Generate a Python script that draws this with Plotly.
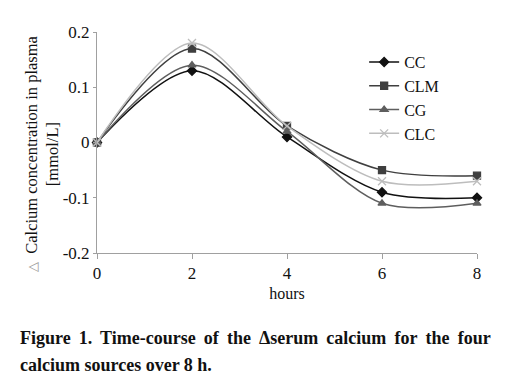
import plotly.graph_objects as go

hours = [0, 2, 4, 6, 8]
series_names = ["CC", "CLM", "CG", "CLC"]
cc = [0, 0.13, 0.01, -0.09, -0.10]
clm = [0, 0.17, 0.03, -0.05, -0.06]
cg = [0, 0.14, 0.02, -0.11, -0.11]
clc = [0, 0.18, 0.03, -0.07, -0.07]
y_ticks = [-0.2, -0.1, 0, 0.1, 0.2]
y_tick_labels = ["-0.2", "-0.1", "0", "0.1", "0.2"]
x_ticks = [0, 2, 4, 6, 8]

colors = ["#111111", "#3f3f3f", "#5e5e5e", "#bdbdbd"]
symbols = ["diamond", "square", "triangle-up", "x-thin"]
values = [cc, clm, cg, clc]

fig = go.Figure()
for name, vals, col, sym in zip(series_names, values, colors, symbols):
    fig.add_trace(go.Scatter(
        x=hours, y=vals, name=name, mode="lines+markers",
        line=dict(color=col, width=1.5, shape="spline", smoothing=0.9),
        marker=dict(symbol=sym, size=7 if sym != "x-thin" else 8, color=col,
                    line=dict(color=col, width=1.3)),
        cliponaxis=False,
    ))

font = "Liberation Serif, Times New Roman, serif"
fig.update_layout(
    width=519, height=392,
    margin=dict(l=89, r=50, t=24, b=147),
    paper_bgcolor="white", plot_bgcolor="white",
    font=dict(family=font, size=17, color="#111111"),
    showlegend=True,
    legend=dict(x=0.703, y=0.941, xanchor="left", yanchor="top",
                font=dict(size=16, family=font), bgcolor="rgba(0,0,0,0)",
                tracegroupgap=0),
    xaxis=dict(range=[0, 8], tickvals=x_ticks, showgrid=False, zeroline=False,
               showline=True, linecolor="#a0a0a0", linewidth=1,
               ticks="outside", ticklen=5, tickcolor="#a0a0a0",
               tickfont=dict(size=17, family=font),
               title=dict(text="hours", font=dict(size=16, family=font), standoff=5)),
    yaxis=dict(range=[-0.2, 0.2], tickvals=y_ticks, ticktext=y_tick_labels,
               showgrid=False, zeroline=False,
               showline=True, linecolor="#a0a0a0", linewidth=1,
               ticks="outside", ticklen=3, tickcolor="#a0a0a0",
               tickfont=dict(size=17, family=font)),
)

fig.add_annotation(
    xref="paper", yref="paper", x=-0.145, y=0.452, xanchor="center", yanchor="middle",
    textangle=-90, showarrow=False,
    text="<span style='color:#999999;font-size:13px'>△</span>\u2002Calcium concentration in plasma<br>[mmol/L]",
    font=dict(size=16.5, family=font, color="#111111"),
)

line1 = "Figure 1. Time-course of the Δserum calcium for the four".replace(" ", "\u2009 ")
line2 = "calcium sources over 8 h."
fig.add_annotation(
    xref="paper", yref="paper", x=-0.208, y=-0.385, xanchor="left", yanchor="middle",
    showarrow=False, align="left",
    text="<b>" + line1 + "</b>",
    font=dict(size=18, family=font, color="#111111"),
)
fig.add_annotation(
    xref="paper", yref="paper", x=-0.208, y=-0.505, xanchor="left", yanchor="middle",
    showarrow=False, align="left",
    text="<b>" + line2 + "</b>",
    font=dict(size=18, family=font, color="#111111"),
)

fig.write_html("out.html")
